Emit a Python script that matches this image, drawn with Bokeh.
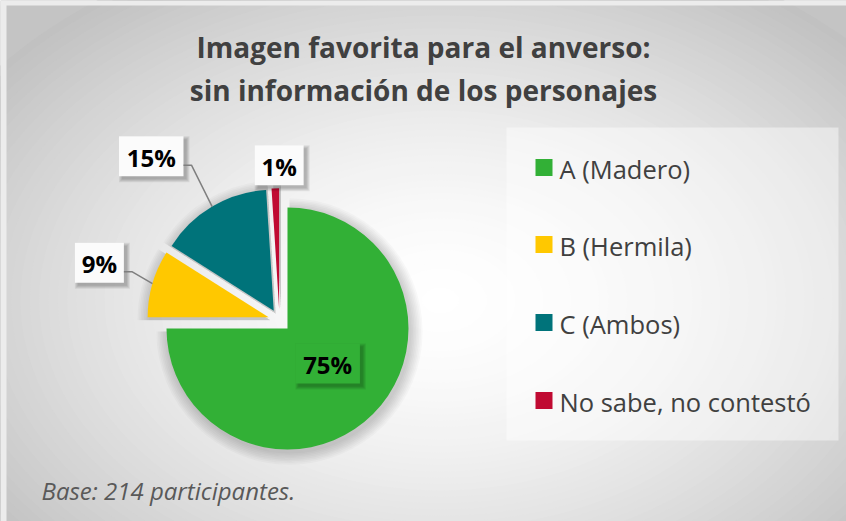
import numpy as np
from bokeh.plotting import figure
from bokeh.models import Range1d
from bokeh.core.properties import value
from bokeh.embed import file_html
from bokeh.resources import INLINE

# ---------------- data ----------------
categories = ["A (Madero)", "B (Hermila)", "C (Ambos)", "No sabe, no contestó"]
percentages = [75, 9, 15, 1]
colors = ["#32b036", "#ffc800", "#00737a", "#c00a32"]
title_lines = ["Imagen favorita para el anverso:", "sin información de los personajes"]
footnote = "Base: 214 participantes."

# ---------------- layout ----------------
W, H = 846, 521
FONT = "Open Sans"
TXT = "#404040"

p = figure(width=W, height=H, output_backend="svg", toolbar_location=None,
           x_range=Range1d(0, W), y_range=Range1d(-H, 0),
           x_axis_type=None, y_axis_type=None, min_border=0)
p.grid.visible = False
p.outline_line_color = None
p.background_fill_color = "#c4c4c4"

def Y(py):
    return -np.asarray(py, dtype=float)

# radial background gradient (stepped)
gcx, gcy = 440, 300
steps = 60
for i in range(steps, 0, -1):
    t = i / steps
    g = int(round(255 - 62 * t ** 1.6))
    p.ellipse(x=gcx, y=Y(gcy), width=2 * 560 * t, height=2 * 380 * t,
              fill_color=(g, g, g), line_color=None)
# light strips outside the chart area (left / top)
p.quad(left=0, right=6, top=0, bottom=-H, fill_color="#ececec", line_color=None)
p.quad(left=0, right=W, top=0, bottom=-5, fill_color="#ececec", line_color=None)

# ---------------- pie ----------------
cx, cy, R, expl = 279.0, 320.0, 121.0, 11.3
vals = np.array(percentages, dtype=float)
cum = np.cumsum(vals)
th_start = 360.0 * (cum - vals) / cum[-1]   # clockwise from 12 o'clock
th_end = 360.0 * cum / cum[-1]
th_mid = (th_start + th_end) / 2
apx = cx + expl * np.sin(np.radians(th_mid))
apy = cy - expl * np.cos(np.radians(th_mid))
sa = np.radians(90 - th_end)
ea = np.radians(90 - th_start)

# soft shadow
for k in range(8):
    p.wedge(x=apx + 2, y=Y(apy + 3), radius=R + 1 + 1.6 * k, start_angle=sa, end_angle=ea,
            fill_color="black", fill_alpha=0.025, line_color=None)
p.wedge(x=apx, y=Y(apy), radius=R, start_angle=sa, end_angle=ea,
        fill_color=colors, line_color=None)

# ---------------- data labels ----------------
lab_r = [0.44, 1.47, 1.63, 1.19]
lab_dth = [-4.0, 1.7, -7.8, 1.8]
lab_inside = [True, False, False, False]
box_h = 40
for i, v in enumerate(percentages):
    txt = f"{v}%"
    th = np.radians(th_mid[i] + lab_dth[i])
    lx = apx[i] + lab_r[i] * R * np.sin(th)
    ly = apy[i] - lab_r[i] * R * np.cos(th)
    bw = 18 + 15.5 * len(txt)
    fill = colors[i] if lab_inside[i] else "#fbfbfb"
    # shadow
    for k in range(4):
        p.rect(x=lx + 3, y=Y(ly + 3), width=bw + 2 * k, height=box_h + 2 * k,
               fill_color="black", fill_alpha=0.07, line_color=None)
    p.rect(x=lx, y=Y(ly), width=bw, height=box_h, fill_color=fill, line_color=None)
    p.text(x=[lx], y=Y([ly + 1]), text=[txt], text_font=value(FONT), text_font_style="bold",
           text_font_size="24px", text_color="black", text_align="center",
           text_baseline="middle")
    if not lab_inside[i] and v >= 5:
        ex = apx[i] + R * np.sin(np.radians(th_mid[i]))
        ey = apy[i] - R * np.cos(np.radians(th_mid[i]))
        x0 = lx + bw / 2
        yl = ly + 9
        p.line(x=[x0, x0 + 8, ex], y=Y([yl, yl, ey]), line_color="#7f7f7f", line_width=1.5)

# ---------------- legend ----------------
p.quad(left=506, right=838, top=Y(127), bottom=Y(440), fill_color="white",
       fill_alpha=0.45, line_color=None)
leg_y = [167, 244, 322, 400]
p.rect(x=[543.5] * 4, y=Y(leg_y), width=17, height=17, fill_color=colors, line_color=None)
p.text(x=[559] * 4, y=Y(np.array(leg_y) + 1), text=categories, text_font=value(FONT),
       text_font_size="25.5px", text_color=TXT, text_align="left", text_baseline="middle")

# ---------------- title & footnote ----------------
p.text(x=[423, 423], y=Y([46, 89]), text=title_lines, text_font=value(FONT),
       text_font_style="bold", text_font_size="28px", text_color=TXT,
       text_align="center", text_baseline="middle")
p.text(x=[41], y=Y([490]), text=[footnote], text_font=value(FONT),
       text_font_style="italic", text_font_size="24px", text_color="#595959",
       text_align="left", text_baseline="middle")

open("out.html", "w").write(file_html(p, INLINE))
